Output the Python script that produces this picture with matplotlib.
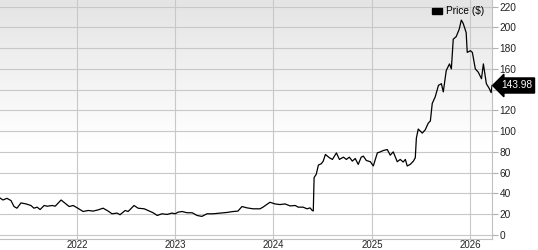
import matplotlib
matplotlib.use("Agg")
import matplotlib.pyplot as plt
from matplotlib.patches import Patch
from matplotlib.colors import LinearSegmentedColormap
import numpy as np
import pandas as pd

dates = [
    "2021-03-21", "2021-04-01", "2021-04-16", "2021-05-01", "2021-05-12", "2021-05-23",
    "2021-06-07", "2021-06-26", "2021-07-14", "2021-07-25", "2021-08-06", "2021-08-17",
    "2021-09-01", "2021-09-12", "2021-10-01", "2021-10-12", "2021-11-03", "2021-11-18",
    "2021-12-03", "2021-12-18", "2022-01-02", "2022-01-24", "2022-02-12", "2022-03-02",
    "2022-03-21", "2022-04-08", "2022-04-27", "2022-05-11", "2022-05-30", "2022-06-10",
    "2022-06-29", "2022-07-10", "2022-08-01", "2022-08-16", "2022-09-08", "2022-09-30",
    "2022-10-11", "2022-10-26", "2022-11-13", "2022-12-02", "2022-12-20", "2023-01-01",
    "2023-01-12", "2023-01-27", "2023-02-14", "2023-03-05", "2023-03-23", "2023-04-10",
    "2023-04-29", "2023-05-21", "2023-06-17", "2023-07-12", "2023-08-04", "2023-08-22",
    "2023-09-06", "2023-09-25", "2023-10-17", "2023-11-12", "2023-11-23", "2023-12-19",
    "2024-01-07", "2024-01-25", "2024-02-13", "2024-03-03", "2024-03-22", "2024-04-02",
    "2024-04-20", "2024-05-05", "2024-05-16", "2024-05-24", "2024-05-28", "2024-05-31",
    "2024-06-08", "2024-06-16", "2024-06-27", "2024-07-04", "2024-07-12", "2024-07-27",
    "2024-08-07", "2024-08-22", "2024-09-02", "2024-09-17", "2024-09-28", "2024-10-09",
    "2024-10-20", "2024-10-31", "2024-11-11", "2024-11-22", "2024-11-30", "2024-12-11",
    "2024-12-26", "2025-01-06", "2025-01-21", "2025-02-01", "2025-02-12", "2025-02-27",
    "2025-03-10", "2025-03-21", "2025-04-05", "2025-04-16", "2025-04-27", "2025-05-05",
    "2025-05-12", "2025-05-23", "2025-06-04", "2025-06-11", "2025-06-15", "2025-06-22",
    "2025-07-07", "2025-07-18", "2025-07-29", "2025-08-06", "2025-08-13", "2025-08-24",
    "2025-09-05", "2025-09-16", "2025-09-23", "2025-10-04", "2025-10-16", "2025-10-23",
    "2025-10-30", "2025-11-10", "2025-11-21", "2025-11-29", "2025-12-06", "2025-12-17",
    "2025-12-21", "2026-01-02", "2026-01-09", "2026-01-20", "2026-01-31", "2026-02-12",
    "2026-02-19", "2026-03-02", "2026-03-13", "2026-03-20", "2026-03-23",
]
prices = [
    35.5, 33.6, 35.2, 33.0, 27.3, 25.7,
    30.8, 29.8, 28.3, 25.7, 26.7, 24.4,
    28.3, 27.6, 28.3, 27.6, 33.6, 30.5,
    27.3, 28.3, 26.0, 22.5, 23.5, 22.9,
    24.1, 25.7, 22.9, 20.3, 21.0, 19.4,
    23.5, 22.5, 28.3, 25.7, 25.1, 22.5,
    21.3, 18.7, 20.3, 19.7, 21.0, 20.3,
    21.9, 22.5, 21.3, 21.3, 18.7, 17.8,
    20.3, 20.3, 21.0, 21.6, 22.5, 22.9,
    27.3, 26.0, 25.1, 25.1, 26.7, 31.4,
    29.8, 29.2, 29.8, 27.9, 28.3, 26.7,
    26.7, 25.1, 26.0, 23.5, 23.0, 55.2,
    58.4, 67.3, 68.6, 71.1, 77.5, 74.3,
    72.7, 79.0, 72.7, 74.9, 72.7, 74.9,
    71.1, 73.6, 67.9, 74.9, 75.9, 71.7,
    70.5, 66.4, 79.0, 80.0, 81.3, 82.2,
    76.8, 80.0, 70.5, 72.7, 70.2, 72.7,
    66.4, 67.9, 71.1, 74.3, 93.3, 102.0,
    98.1, 101.3, 107.6, 109.8, 126.7, 133.0,
    144.1, 145.7, 137.8, 158.4, 164.8, 160.0,
    188.6, 191.1, 198.1, 207.0, 203.8, 195.0,
    175.9, 177.5, 175.9, 160.0, 156.8, 150.5,
    164.8, 145.7, 141.0, 137.1, 143.98,
]
year_ticks = ["2022", "2023", "2024", "2025", "2026"]
y_ticks = [0, 20, 40, 60, 80, 100, 120, 140, 160, 180, 200, 220]
y_tick_labels = ["0", "20", "40", "60", "80", "100", "120", "", "160", "180", "200", "220"]
last_label = "143.98"
legend_label = "Price ($)"

plt.rcParams['font.family'] = ['Liberation Sans', 'DejaVu Sans']

x = pd.to_datetime(dates)

fig = plt.figure(figsize=(5.38, 2.5), dpi=100)
ax = fig.add_axes([0.0, 0.044, 492 / 538, 0.956])

# background gradient
grad = np.linspace(0, 1, 256).reshape(-1, 1)
grad = np.clip((grad - 0.40) / 0.60, 0, 1)
cmap = LinearSegmentedColormap.from_list("bg", ["#ffffff", "#e4e4e4"])
ax.imshow(grad, extent=[0, 1, 0, 1], transform=ax.transAxes, aspect="auto",
          cmap=cmap, origin="lower", zorder=0)

ax.plot(x, prices, color="black", lw=0.9, zorder=3)

ax.set_xlim(pd.Timestamp("2021-03-21"), pd.Timestamp("2026-03-23"))
ax.set_ylim(-4.0, 226.4)

ax.set_xticks(pd.to_datetime([f"{y}-01-01" for y in year_ticks]))
ax.set_xticklabels(year_ticks)
ax.set_yticks(y_ticks)
ax.set_yticklabels(y_tick_labels)

ax.yaxis.tick_right()
ax.grid(True, color="#c8c8c8", lw=0.8, zorder=1)
ax.set_axisbelow(True)
ax.tick_params(axis="y", which="both", length=4, width=0.8, color="#b0b0b0",
               pad=1.5, labelsize=7.3, labelcolor="#222222")
ax.tick_params(axis="x", which="both", length=0, pad=0.5, labelsize=7.0,
               labelcolor="#222222")

for side in ["top", "left"]:
    ax.spines[side].set_visible(False)
for side in ["right", "bottom"]:
    ax.spines[side].set_color("#c0c0c0")
    ax.spines[side].set_linewidth(0.8)

# last price tag
ax.text(1.018, prices[-1], last_label, transform=ax.get_yaxis_transform(),
        ha="left", va="center", color="white", fontsize=7.3,
        bbox=dict(boxstyle="larrow,pad=0.25", fc="black", ec="black"), zorder=5,
        clip_on=False)

leg = ax.legend(handles=[Patch(facecolor="black", edgecolor="black")],
                labels=[legend_label], loc="center right",
                bbox_to_anchor=(0.985, 0.953), frameon=False, fontsize=7.3,
                handlelength=1.0, handleheight=0.55, handletextpad=0.4,
                borderpad=0, borderaxespad=0)

fig.savefig("out.png", dpi=100)
